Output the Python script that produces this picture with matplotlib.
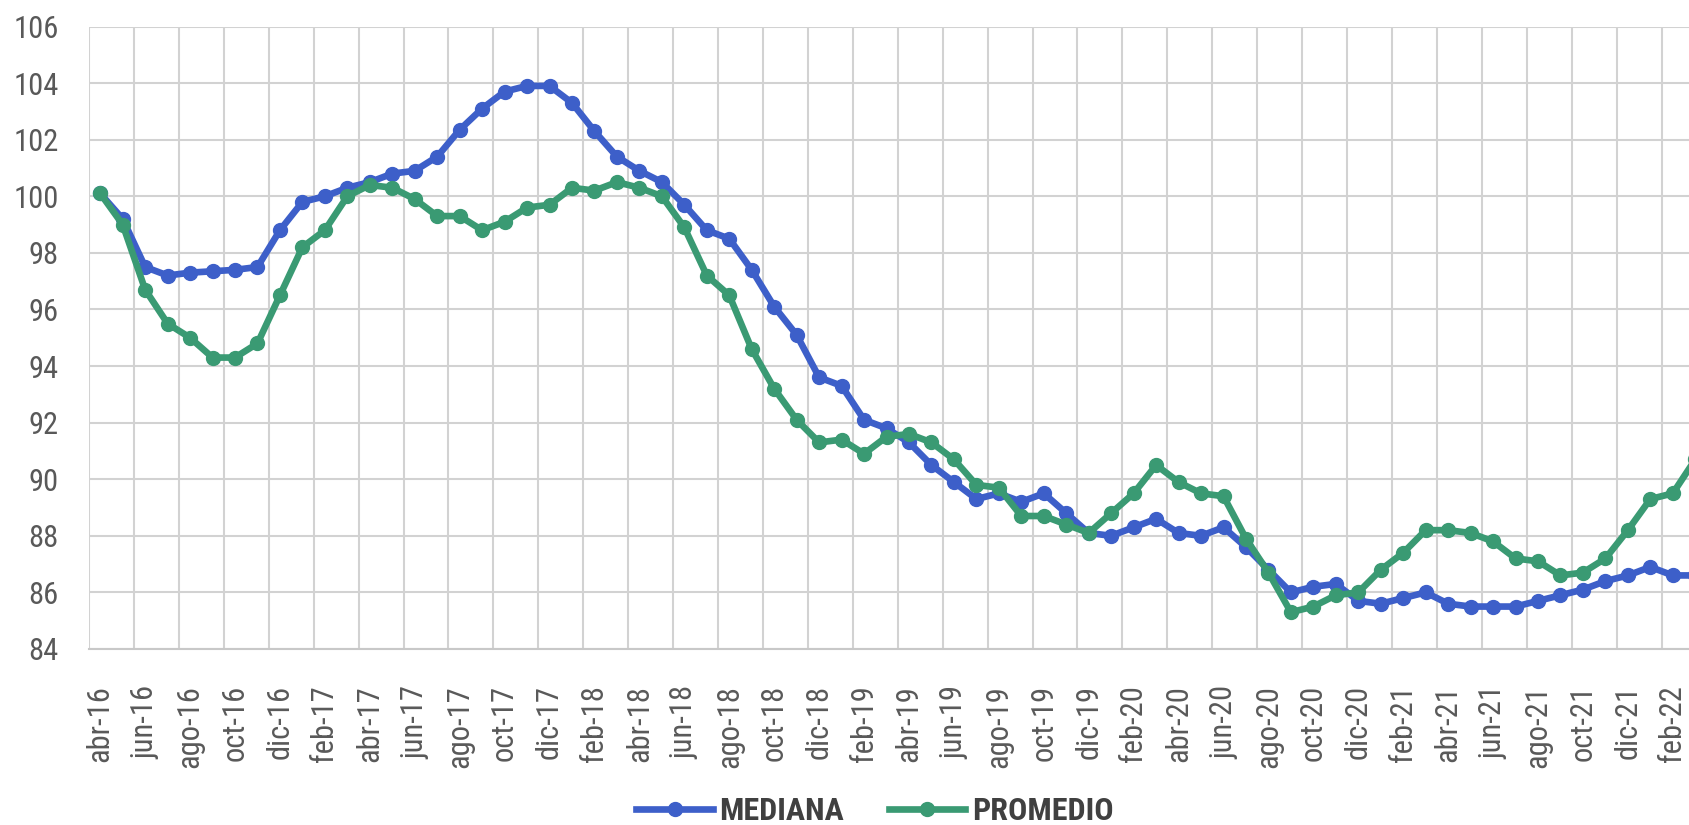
import matplotlib.pyplot as plt
import numpy as np

plt.rcParams['font.family'] = ['Roboto Condensed', 'Roboto', 'DejaVu Sans']
plt.rcParams['font.stretch'] = 'condensed'

# monthly values, abr-16 .. mar-22 (index 100 = abr-16)
mediana = [100.1, 99.2, 97.5, 97.2, 97.3, 97.35, 97.4, 97.5, 98.8, 99.8,
           100.0, 100.3, 100.5, 100.8, 100.9, 101.4, 102.35, 103.1, 103.7, 103.9,
           103.9, 103.3, 102.3, 101.4, 100.9, 100.5, 99.7, 98.8, 98.5, 97.4,
           96.1, 95.1, 93.6, 93.3, 92.1, 91.8, 91.3, 90.5, 89.9, 89.3,
           89.5, 89.2, 89.5, 88.8, 88.1, 88.0, 88.3, 88.6, 88.1, 88.0,
           88.3, 87.6, 86.8, 86.0, 86.2, 86.3, 85.7, 85.6, 85.8, 86.0,
           85.6, 85.5, 85.5, 85.5, 85.7, 85.9, 86.1, 86.4, 86.6, 86.9,
           86.6, 86.6]
promedio = [100.1, 99.0, 96.7, 95.5, 95.0, 94.3, 94.3, 94.8, 96.5, 98.2,
            98.8, 100.0, 100.4, 100.3, 99.9, 99.3, 99.3, 98.8, 99.1, 99.6,
            99.7, 100.3, 100.2, 100.5, 100.3, 100.0, 98.9, 97.2, 96.5, 94.6,
            93.2, 92.1, 91.3, 91.4, 90.9, 91.5, 91.6, 91.3, 90.7, 89.8,
            89.7, 88.7, 88.7, 88.4, 88.1, 88.8, 89.5, 90.5, 89.9, 89.5,
            89.4, 87.9, 86.7, 85.3, 85.5, 85.9, 86.0, 86.8, 87.4, 88.2,
            88.2, 88.1, 87.8, 87.2, 87.1, 86.6, 86.7, 87.2, 88.2, 89.3,
            89.5, 90.7]
tick_labels = ['abr-16', 'jun-16', 'ago-16', 'oct-16', 'dic-16', 'feb-17',
               'abr-17', 'jun-17', 'ago-17', 'oct-17', 'dic-17', 'feb-18',
               'abr-18', 'jun-18', 'ago-18', 'oct-18', 'dic-18', 'feb-19',
               'abr-19', 'jun-19', 'ago-19', 'oct-19', 'dic-19', 'feb-20',
               'abr-20', 'jun-20', 'ago-20', 'oct-20', 'dic-20', 'feb-21',
               'abr-21', 'jun-21', 'ago-21', 'oct-21', 'dic-21', 'feb-22']

blue = '#3d5fc9'
green = '#3a9a73'
grid_col = '#d2d2d2'

fig = plt.figure(figsize=(16.89, 8.25), dpi=100)
# the source picture is cut on the right, so the axes run to the figure edge
ax = fig.add_axes([89 / 1689, 176 / 825, 1600 / 1689, 622.5 / 825])

x = np.arange(len(mediana))
ax.plot(x, mediana, color=blue, lw=4.8, marker='o', ms=10,
        solid_joinstyle='round', label='MEDIANA', zorder=3)
ax.plot(x, promedio, color=green, lw=4.8, marker='o', ms=10,
        solid_joinstyle='round', label='PROMEDIO', zorder=4)

ax.set_xlim(-0.5, 70.72)
ax.set_ylim(84, 106)
ax.set_yticks(range(84, 107, 2))
ax.set_xticks(np.arange(0, 71, 2))
ax.set_xticklabels(tick_labels, rotation=90, va='top')
ax.set_xticks(np.arange(-0.5, 71, 2), minor=True)

ax.grid(axis='y', which='major', color=grid_col, lw=1.5)
ax.grid(axis='x', which='minor', color=grid_col, lw=1.5)
ax.set_axisbelow(True)

for s in ['top', 'right', 'left']:
    ax.spines[s].set_visible(False)
ax.spines['bottom'].set_color('#c8c8c8')
ax.spines['bottom'].set_linewidth(1.5)

ax.tick_params(axis='both', which='both', length=0, labelsize=22, labelcolor='#595959')
ax.tick_params(axis='y', pad=22)
ax.tick_params(axis='x', pad=26)

leg = fig.legend(loc='center', ncol=2, frameon=False,
                 handlelength=2.4, columnspacing=1.4, handletextpad=0.2,
                 prop={'size': 23, 'weight': 'bold'})
leg.set_bbox_to_anchor((0.518, 1 - 811 / 825), transform=fig.transFigure)
for t in leg.get_texts():
    t.set_color('#404040')

fig.savefig('out.png', dpi=100)
